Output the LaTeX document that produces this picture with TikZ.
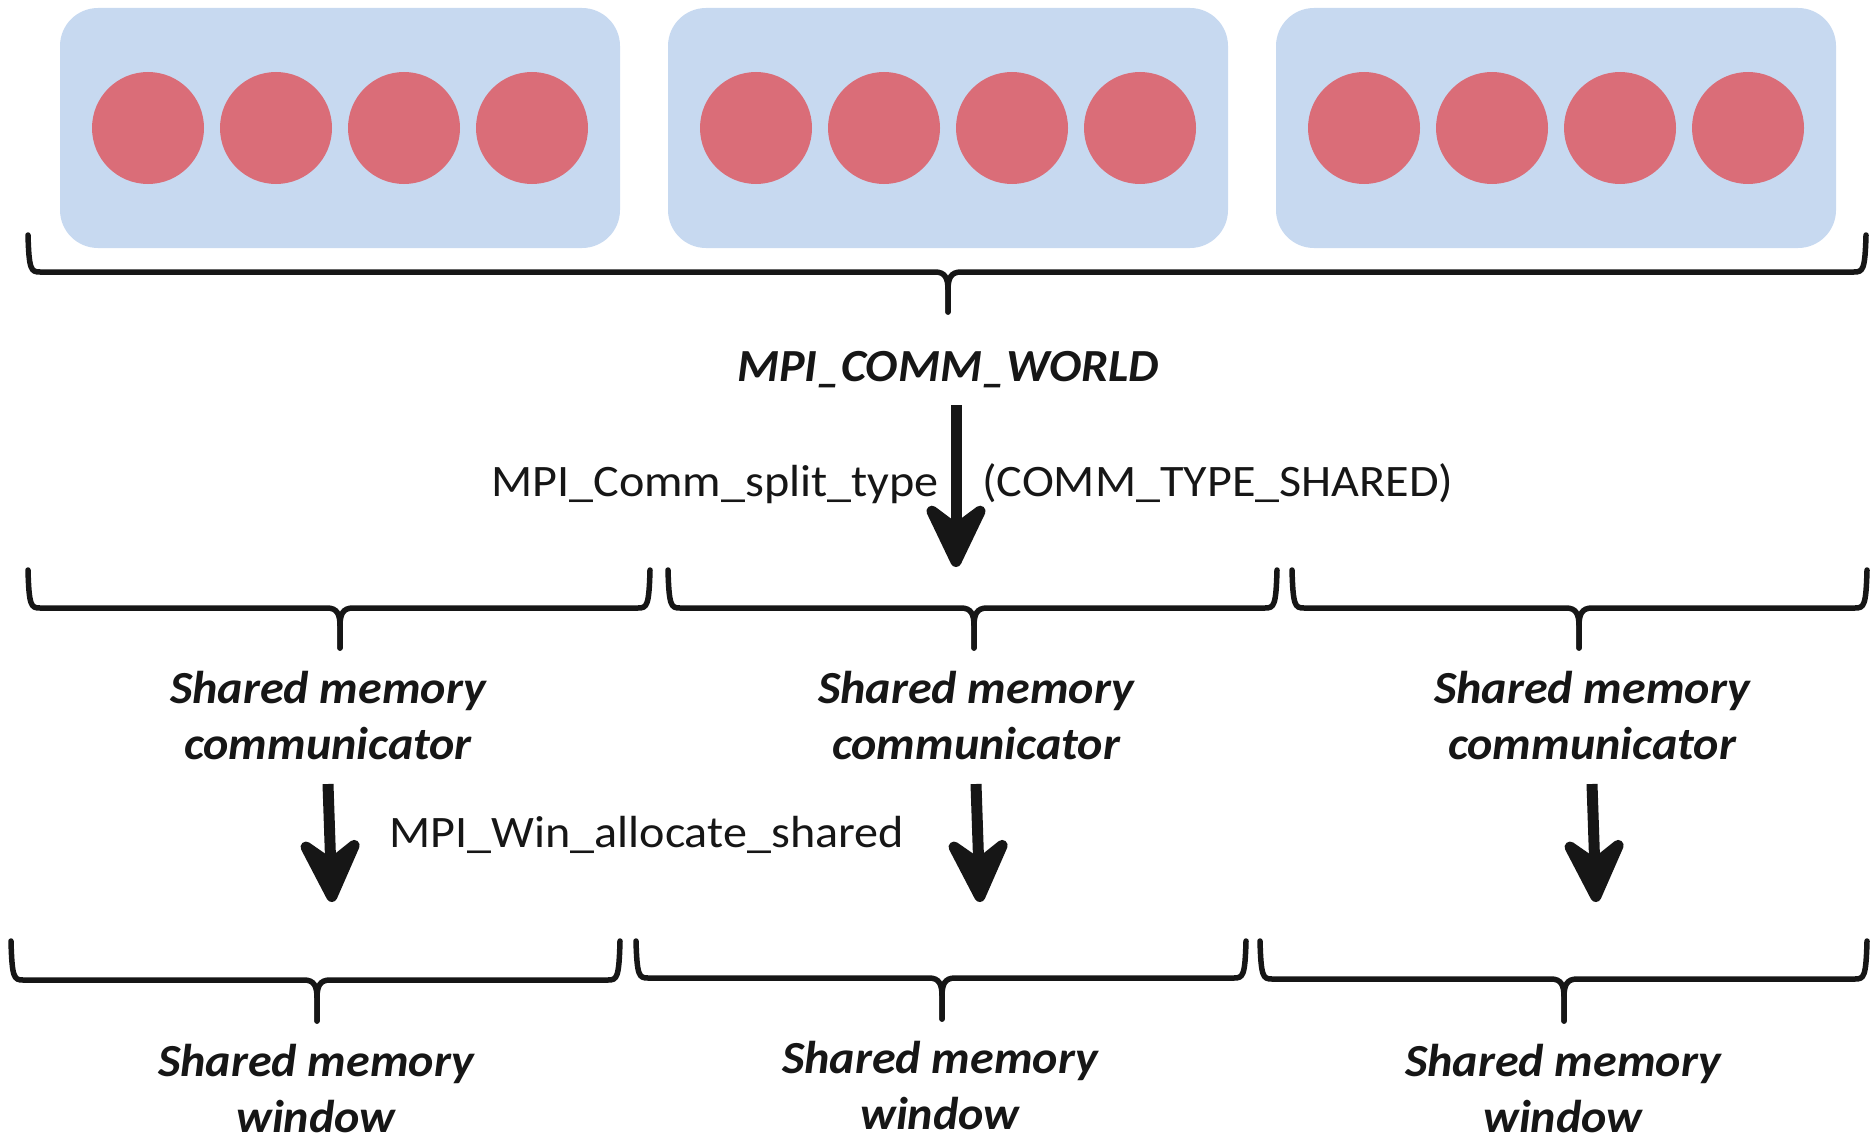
\documentclass[tikz,border=0pt]{standalone}
\usepackage{fontspec}
\setmainfont{Carlito}
\newfontfamily\regfont[FakeStretch=1.07]{Carlito}
\newfontfamily\bifont[FakeStretch=1.045]{Carlito}
\usetikzlibrary{arrows.meta}
\definecolor{boxblue}{RGB}{199,217,240}
\definecolor{procred}{RGB}{218,109,120}
\definecolor{ink}{RGB}{22,22,22}
\tikzset{
  nodebox/.style={fill=boxblue, rounded corners=38pt},
  proc/.style={fill=procred},
  bracestyle/.style={draw=ink, line width=5.5pt, line cap=round, line join=round},
  bigarrow/.style={draw=ink, line width=11pt, -{Stealth[length=80pt,width=76pt,inset=28pt,round,line width=11pt]}},
  bi/.style={font=\bifont\fontsize{46}{56}\selectfont\bfseries\itshape, text=ink, inner sep=0pt, align=center},
  reg/.style={font=\regfont\fontsize{45}{52}\selectfont, text=ink, inner sep=0pt},
}
% x1 x2 xmid ytop yline ybottom
\newcommand\mybrace[6]{%
  \draw[bracestyle] (#1,#4) .. controls (#1+1,#5-2) and (#1+3,#5) .. (#1+12,#5)
     -- (#3-13,#5) .. controls (#3-3,#5) and (#3,#5+6) .. (#3,#5+18) -- (#3,#6);
  \draw[bracestyle] (#2,#4) .. controls (#2-1,#5-2) and (#2-3,#5) .. (#2-12,#5)
     -- (#3+13,#5) .. controls (#3+3,#5) and (#3,#5+6) .. (#3,#5+18) -- (#3,#6);
}
\begin{document}
\begin{tikzpicture}[x=1pt,y=-1pt]
\useasboundingbox (0,0) rectangle (1870,1137);
% node boxes with processes
\foreach \i/\bx in {1/60,2/668,3/1276}{
  \fill[nodebox] (\bx,8) rectangle (\bx+560,248);
  \foreach \j/\dx in {1/88,2/216,3/344,4/472}{
    \fill[proc] (\bx+\dx,128) circle (56);
  }
}
% top brace
\mybrace{28}{1866}{948}{235}{272}{312}
\node[bi] (world) at (948,370) {MPI\_COMM\_WORLD};
% split arrow
\coordinate (a1s) at (956,405);
\coordinate (a1e) at (956,567);
\draw[bigarrow] (a1s) -- (a1e);
\node[reg, anchor=base west] (split) at (491,496) {MPI\_Comm\_split\_type};
\node[reg, anchor=base west] (ctype) at (982,496) {(COMM\_TYPE\_SHARED)};
% second row braces
\mybrace{28}{650}{340}{570}{608}{648}
\mybrace{668}{1277}{974}{570}{608}{648}
\mybrace{1292}{1867}{1579}{570}{608}{648}
\node[bi] (c1) at (328,716) {Shared memory\\communicator};
\node[bi] (c2) at (976,716) {Shared memory\\communicator};
\node[bi] (c3) at (1592,716) {Shared memory\\communicator};
% allocate arrows
\coordinate (b1s) at (328,784); \coordinate (b1e) at (332,902);
\coordinate (b2s) at (976,784); \coordinate (b2e) at (980,902);
\coordinate (b3s) at (1592,784); \coordinate (b3e) at (1596,902);
\draw[bigarrow] (b1s) -- (b1e);
\draw[bigarrow] (b2s) -- (b2e);
\draw[bigarrow] (b3s) -- (b3e);
\node[reg, anchor=base west] (alloc) at (389,847) {MPI\_Win\_allocate\_shared};
% third row braces
\mybrace{11}{620}{317}{941}{980}{1021}
\mybrace{636}{1246}{942}{941}{978}{1019}
\mybrace{1260}{1867}{1564}{941}{979}{1021}
\node[bi] (w1) at (316,1089) {Shared memory\\window};
\node[bi] (w2) at (940,1086) {Shared memory\\window};
\node[bi] (w3) at (1563,1089) {Shared memory\\window};
\end{tikzpicture}
\end{document}
